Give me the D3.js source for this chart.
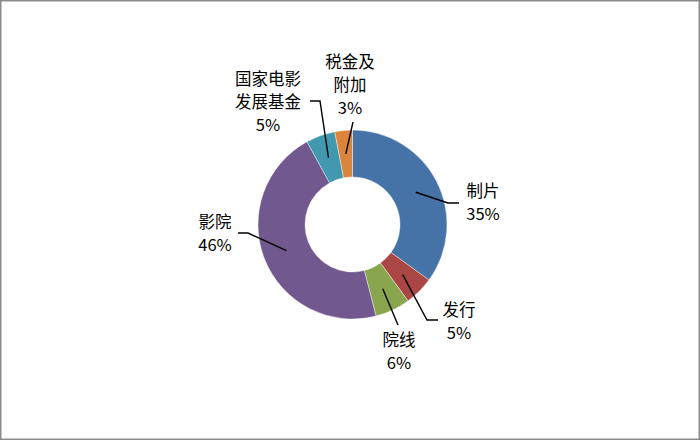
<!DOCTYPE html>
<html><head><meta charset="utf-8">
<script src="https://cdn.jsdelivr.net/npm/d3@7/dist/d3.min.js"></script>
<style>
html,body{margin:0;padding:0;background:#fff;}
svg{display:block;}
text{font-family:"Noto Sans CJK SC","Noto Sans",sans-serif;font-size:16.5px;fill:#000;}
</style></head>
<body><svg id="c" width="700" height="440"></svg>
<script>
const categories = ["制片","发行","院线","影院","国家电影发展基金","税金及附加"];
const values = [35,5,6,46,5,3];
const labelLines = [["制片"],["发行"],["院线"],["影院"],["国家电影","发展基金"],["税金及","附加"]];
const pctLabels = ["35%","5%","6%","46%","5%","3%"];
const colors = ["#4572A7","#AA4643","#89A54E","#71588F","#4198AF","#DB843D"];

// layout (label text anchors and leader elbows)
const layout = [
  {tx:483, ty:191, elbow:[448,203], end:[459,203]},
  {tx:459, ty:310, elbow:[427,320], end:[438,320]},
  {tx:399, ty:340, elbow:[398,325], end:null},
  {tx:215, ty:222, elbow:[248,233], end:[238,233]},
  {tx:268, ty:79,  elbow:[320,101], end:[310,101]},
  {tx:350, ty:62,  elbow:[353,122], end:null}
];

const W=700,H=440, cx=352.5, cy=224.5, rOuter=94.5, rInner=47.5, lineH=23;
const svg=d3.select("#c");
svg.append("rect").attr("x",0.75).attr("y",0.75).attr("width",W-1.5).attr("height",H-1.5)
  .attr("fill","#fff").attr("stroke","#8c8c8c").attr("stroke-width",1.5);

const data = categories.map((c,i)=>({cat:c,value:values[i],i}));
const pie=d3.pie().value(d=>d.value).sort(null);
const arc=d3.arc().innerRadius(rInner).outerRadius(rOuter);
const arcs=pie(data);
const g=svg.append("g").attr("transform",`translate(${cx},${cy})`);
g.selectAll("path").data(arcs).join("path")
  .attr("d",arc).attr("fill",d=>colors[d.data.i])
  .attr("stroke","rgba(255,255,255,0.6)").attr("stroke-width",0.7);

// leader lines
arcs.forEach(d=>{
  const [x0,y0]=arc.centroid(d);
  const L=layout[d.data.i];
  const pts=[[cx+x0,cy+y0],L.elbow];
  if(L.end) pts.push(L.end);
  svg.append("path").attr("d",d3.line()(pts)).attr("fill","none")
    .attr("stroke","#000").attr("stroke-width",1.4);
});

// labels
arcs.forEach(d=>{
  const i=d.data.i, L=layout[i];
  const lines=labelLines[i].concat([pctLabels[i]]);
  const t=svg.append("text").attr("text-anchor","middle");
  lines.forEach((s,k)=>{
    t.append("tspan").attr("x",L.tx).attr("y",L.ty+k*lineH).attr("dy","0.35em").text(s);
  });
});
</script></body></html>
